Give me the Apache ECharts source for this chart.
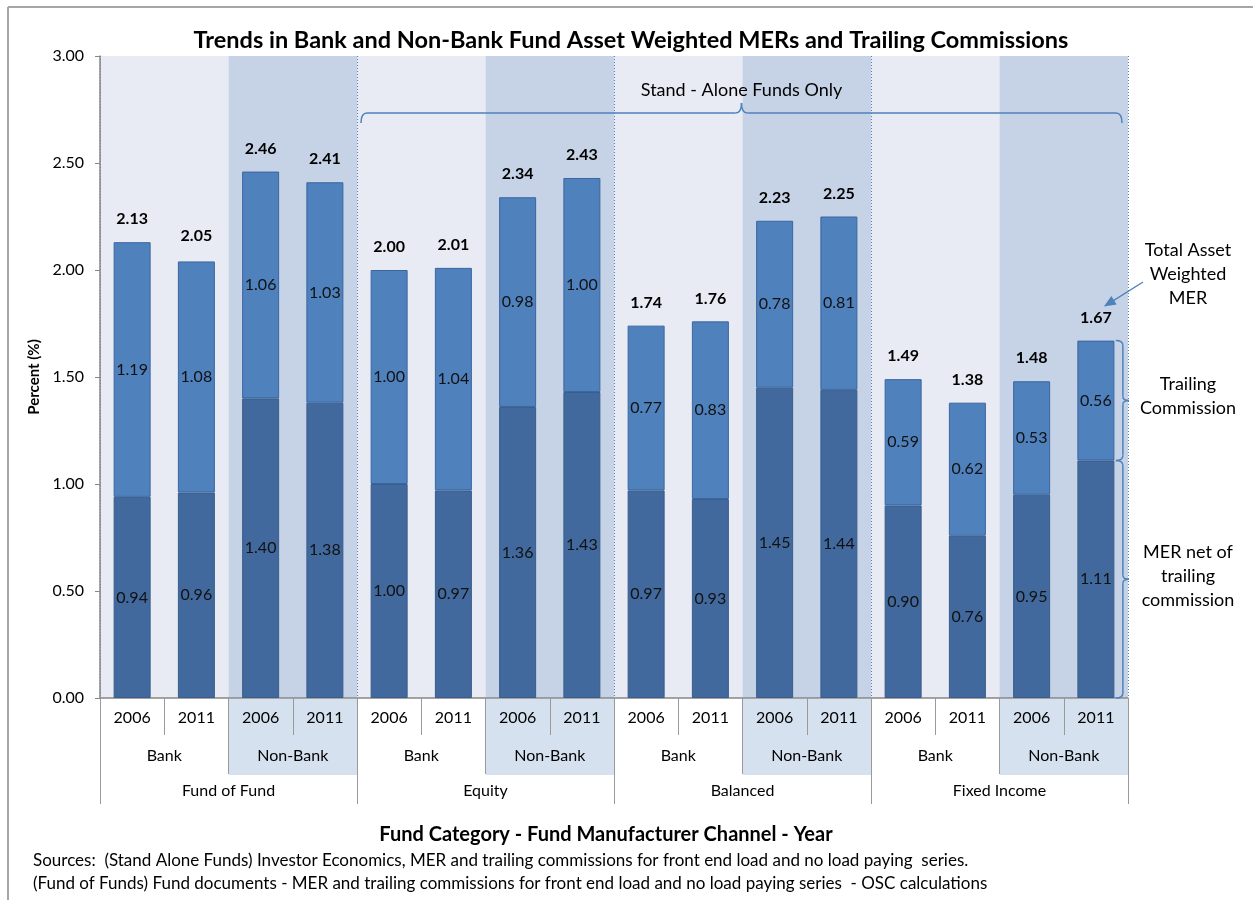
<!DOCTYPE html>
<html><head><meta charset="utf-8">
<script src="https://cdn.jsdelivr.net/npm/echarts@6/dist/echarts.min.js"></script>
<style>html,body{margin:0;padding:0;background:#fff}#c{width:1253px;height:907px}</style>
</head><body><div id="c"></div>
<script>
const years = ['2006','2011','2006','2011','2006','2011','2006','2011','2006','2011','2006','2011','2006','2011','2006','2011'];
const channels = ['Bank','Non-Bank','Bank','Non-Bank','Bank','Non-Bank','Bank','Non-Bank'];
const categories = ['Fund of Fund','Equity','Balanced','Fixed Income'];
const merNet = [0.94,0.96,1.40,1.38,1.00,0.97,1.36,1.43,0.97,0.93,1.45,1.44,0.90,0.76,0.95,1.11];
const trailing = [1.19,1.08,1.06,1.03,1.00,1.04,0.98,1.00,0.77,0.83,0.78,0.81,0.59,0.62,0.53,0.56];
const totals = [2.13,2.05,2.46,2.41,2.00,2.01,2.34,2.43,1.74,1.76,2.23,2.25,1.49,1.38,1.48,1.67];

const FONT = 'Lato';
const chart = echarts.init(document.getElementById('c'), null, {renderer:'canvas'});
const tickGray = '#9a9a9a';
chart.setOption({
  animation:false,
  textStyle:{fontFamily:FONT},
  title:{text:'Trends in Bank and Non-Bank Fund Asset Weighted MERs and Trailing Commissions',
    left:626, top:23, textAlign:'center',
    textStyle:{fontFamily:FONT,fontSize:23.5,fontWeight:'bold',color:'#000'}},
  grid:{left:100,right:125,top:56,bottom:209},
  xAxis:[
    {type:'category',data:years,position:'bottom',
      axisLine:{show:true,lineStyle:{color:'#868686',width:1.5}},
      axisTick:{show:true,length:37,lineStyle:{color:tickGray}},
      axisLabel:{margin:12,fontSize:16,color:'#000',fontFamily:FONT,interval:0},
      splitLine:{show:false}},
    {type:'category',data:channels,position:'bottom',
      axisLine:{show:false},
      axisTick:{show:true,length:76,lineStyle:{color:tickGray}},
      axisLabel:{margin:50,fontSize:16,color:'#000',fontFamily:FONT,interval:0},
      splitLine:{show:false},
      splitArea:{show:true,interval:0,areaStyle:{color:['#e8ebf4','#c6d3e6']}}},
    {type:'category',data:categories,position:'bottom',
      axisLine:{show:false},
      axisTick:{show:true,length:106,lineStyle:{color:tickGray}},
      axisLabel:{margin:85,fontSize:16,color:'#000',fontFamily:FONT,interval:0},
      splitLine:{show:true,interval:0,lineStyle:{color:'#4f81bd',type:[1,2],width:1}}}
  ],
  yAxis:{type:'value',min:0,max:3,interval:0.5,
    name:'Percent (%)',nameLocation:'middle',nameGap:57,
    nameTextStyle:{fontFamily:FONT,fontSize:15,fontWeight:'bold',color:'#000'},
    axisLine:{show:true,lineStyle:{color:'#868686',width:1.5}},
    axisTick:{show:true,length:5,lineStyle:{color:'#868686'}},
    axisLabel:{margin:16,fontSize:16,color:'#000',fontFamily:FONT,formatter:v=>v.toFixed(2)},
    splitLine:{show:false}},
  series:[
    {name:'MER net of trailing commission',type:'bar',stack:'a',data:merNet,barWidth:37,barGap:'-100%',
      itemStyle:{color:'#41699d',borderColor:'#385d8a',borderWidth:1},
      label:{show:true,position:'inside',fontSize:16,color:'#111',fontFamily:FONT,formatter:p=>p.value.toFixed(2)}},
    {name:'Trailing Commission',type:'bar',stack:'a',data:trailing,barWidth:37,barGap:'-100%',
      itemStyle:{color:'#4f81bd',borderColor:'#3a66a0',borderWidth:1},
      label:{show:true,position:'inside',fontSize:16,color:'#111',fontFamily:FONT,formatter:p=>p.value.toFixed(2)}},
    {name:'Total',type:'bar',data:totals,barWidth:37,barGap:'-100%',z:1,
      itemStyle:{color:'rgba(0,0,0,0)'},
      label:{show:true,position:'top',distance:15,fontSize:16,fontWeight:'bold',color:'#000',fontFamily:FONT,formatter:p=>p.value.toFixed(2)}}
  ]
});

const cx = (axis,i)=>chart.convertToPixel({xAxisIndex:axis}, i);
const py = v=>chart.convertToPixel({yAxisIndex:0}, v);
const chW = cx(1,1)-cx(1,0);
const y0 = py(0);
const g = [];
const BL = '#4f81bd';
const ln = (x1,y1,x2,y2)=>({type:'line',z:10,shape:{x1,y1,x2,y2},style:{stroke:BL,lineWidth:1.5}});
const bz = (x1,y1,cx1,cy1,x2,y2)=>({type:'bezierCurve',z:10,shape:{x1,y1,x2,y2,cpx1:cx1,cpy1:cy1},style:{stroke:BL,lineWidth:1.5,fill:null}});
for(let i=1;i<channels.length;i+=2){
  g.push({type:'rect',z:-1,shape:{x:cx(1,i)-chW/2+0.5,y:y0+1,width:chW-0.5,height:76},style:{fill:'#d6e1ef'}});
}
const catW = cx(2,1)-cx(2,0);
const bx1 = cx(2,1)-catW/2+4, bx2 = cx(2,3)+catW/2-6, bxc=(bx1+bx2)/2, by=113;
g.push(bz(bx1,by+10,bx1,by,bx1+6,by));
g.push(ln(bx1+6,by,bxc-6,by));
g.push(bz(bxc-6,by,bxc,by,bxc,by-10));
g.push(bz(bxc,by-10,bxc,by,bxc+6,by));
g.push(ln(bxc+6,by,bx2-6,by));
g.push(bz(bx2-6,by,bx2,by,bx2,by+10));
g.push({type:'text',z:10,style:{text:'Stand - Alone Funds Only',x:bxc,y:90,align:'center',verticalAlign:'middle',font:`18px ${FONT}`,fill:'#000'}});
const last = totals.length-1;
const vx = cx(0,last)+27;
function vbrace(yt,yb){
  const ym=(yt+yb)/2;
  g.push(bz(vx-7,yt,vx,yt,vx,yt+5));
  g.push(ln(vx,yt+5,vx,ym-4));
  g.push(bz(vx,ym-4,vx,ym,vx+6,ym));
  g.push(bz(vx+6,ym,vx,ym,vx,ym+4));
  g.push(ln(vx,ym+4,vx,yb-5));
  g.push(bz(vx,yb-5,vx,yb,vx-7,yb));
}
vbrace(py(totals[last]),py(merNet[last]));
vbrace(py(merNet[last]),py(0));
const tx = 1188;
const lines = (arr,yc)=>arr.forEach((t,k)=>g.push({type:'text',z:10,style:{text:t,x:tx,y:yc+(k-(arr.length-1)/2)*24,align:'center',verticalAlign:'middle',font:`18px ${FONT}`,fill:'#000'}}));
lines(['Total Asset','Weighted','MER'],274);
lines(['Trailing','Commission'],(py(totals[last])+py(merNet[last]))/2-4);
lines(['MER net of','trailing','commission'],(py(merNet[last])+py(0))/2-3);
const ax1=1143, ay1=282, ax2=cx(0,last)+8, ay2=py(totals[last])-34;
const dx=ax2-ax1, dy=ay2-ay1, L=Math.hypot(dx,dy), ux=dx/L, uy=dy/L;
g.push({type:'line',z:10,shape:{x1:ax1,y1:ay1,x2:ax2-ux*8,y2:ay2-uy*8},style:{stroke:BL,lineWidth:1.3}});
g.push({type:'polygon',z:10,shape:{points:[[ax2,ay2],[ax2-ux*12-uy*5,ay2-uy*12+ux*5],[ax2-ux*12+uy*5,ay2-uy*12-ux*5]]},style:{fill:BL}});
g.push({type:'text',style:{text:'Fund Category - Fund Manufacturer Channel - Year',x:606,y:835,align:'center',verticalAlign:'middle',font:`bold 20px ${FONT}`,fill:'#000'}});
g.push({type:'text',style:{text:'Sources:  (Stand Alone Funds) Investor Economics, MER and trailing commissions for front end load and no load paying  series.',x:33,y:861,align:'left',verticalAlign:'middle',font:`17px ${FONT}`,fill:'#000'}});
g.push({type:'text',style:{text:'(Fund of Funds) Fund documents - MER and trailing commissions for front end load and no load paying series  - OSC calculations',x:33,y:884,align:'left',verticalAlign:'middle',font:`17px ${FONT}`,fill:'#000'}});
g.push({type:'line',shape:{x1:8,y1:7,x2:1253,y2:7},style:{stroke:'#a6a6a6',lineWidth:2}});
g.push({type:'line',shape:{x1:8,y1:7,x2:8,y2:900},style:{stroke:'#a6a6a6',lineWidth:2}});
chart.setOption({graphic:g});
</script></body></html>
